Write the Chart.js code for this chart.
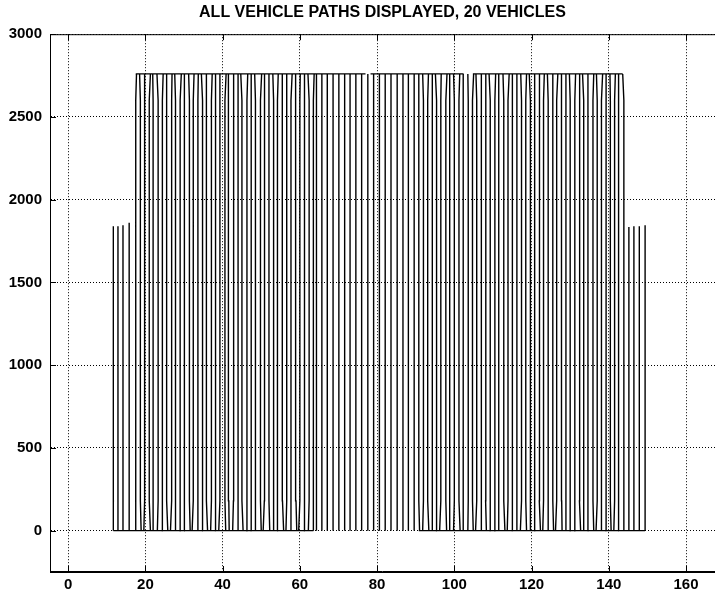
<!DOCTYPE html>
<html lang="en">
<head>
<meta charset="UTF-8">
<title>All vehicle paths</title>
<script src="https://cdn.jsdelivr.net/npm/chart.js"></script>
<style>
  html, body { margin: 0; padding: 0; background: #fff; }
  #wrap { width: 715px; height: 592px; }
</style>
</head>
<body>
<div id="wrap"><canvas id="paths"></canvas></div>
<script>
const TITLE = 'ALL VEHICLE PATHS DISPLAYED, 20 VEHICLES';
const xTicks = [0, 20, 40, 60, 80, 100, 120, 140, 160];
const yTicks = [0, 500, 1000, 1500, 2000, 2500, 3000];

const turnTop = 2760;
const turnBottom = 0;
const bendTop = 2600;
const bendBottom = 180;

// short sweeps on both flanks
const leftShortLanes = [11.7, 12.9, 14.2, 15.8];
const leftShortTops = [1840, 1840, 1845, 1860];
const rightShortLanes = [145.2, 146.5, 147.9, 149.4];
const rightShortTops = [1835, 1840, 1840, 1845];

// full-height lanes, west block / straight middle block / east block
const lanesWest = [17.5, 18.7, 19.8, 21.0, 22.0, 23.3, 24.4, 25.5, 26.8, 27.8, 29.0, 30.1,
  31.4, 32.4, 33.6, 34.8, 35.8, 37.1, 38.2, 39.3, 40.6, 41.6, 42.8, 44.0, 45.0, 46.3, 47.4,
  48.5, 49.8, 50.8, 52.0, 53.2, 54.2, 55.5, 56.6, 57.7, 59.0, 60.0, 61.2, 62.4, 63.5];
const lanesMiddle = [64.3, 65.7, 67.1, 68.6, 70.1, 71.6, 73.0, 74.5, 76.0, 77.6, 79.1, 80.6,
  82.1, 83.6, 85.2, 86.7, 88.1, 89.6];
const lanesEast = [90.8, 92.0, 93.1, 94.3, 95.4, 96.5, 97.8, 98.8, 100.0, 101.2, 102.3, 103.6,
  104.7, 105.8, 107.0, 108.1, 109.3, 110.5, 111.5, 112.8, 113.9, 115.0, 116.2, 117.4, 118.5,
  119.7, 120.8, 122.0, 123.1, 124.3, 125.5, 126.5, 127.8, 128.9, 130.0, 131.2, 132.4, 133.5,
  134.6, 135.9, 137.0, 138.1, 139.3, 140.4, 141.5, 142.6, 143.9];

// sideways drift of each lane where it meets the bottom / top turn (x units)
const leanWestBottom = [0, 0.2, -0.2, 0.3, 0, -0.2, 0.1, 0.3, -0.3, 0, 0.2, -0.1, 0.2, -0.3,
  0, 0.1, 0.3, -0.2, 0, -0.3, 0.2, 0.1, -0.2, 0, 0.3, -0.2, 0.1, 0, 0.2, -0.3, 0.2, 0, -0.1,
  0.3, -0.2, 0, 0.2, -0.3, 0.1, -0.2, 0];
const leanWestTop = [0.2, -0.2, 0, 0.3, -0.1, -0.3, 0.2, 0, 0.1, -0.2, 0.3, 0, -0.2, 0.2,
  0.1, -0.3, 0, 0.2, -0.1, 0, 0.3, -0.2, 0.1, 0, -0.3, 0.2, 0, -0.2, 0.3, 0.1, 0, -0.2, 0.2,
  -0.1, 0, 0.3, -0.2, 0.1, 0, -0.3, 0.2];
const leanEastBottom = [0.2, -0.2, 0.3, 0, 0.1, -0.3, 0.2, 0, -0.2, 0.3, 0, -0.1, 0.2, -0.3,
  0, 0.2, 0.1, -0.2, 0, 0.3, -0.2, 0.1, 0, -0.3, 0.2, 0, -0.1, 0.3, -0.2, 0, 0.2, -0.3, 0.1,
  0, 0.2, -0.2, 0.3, 0, -0.1, 0.2, -0.3, 0, 0.1, 0.2, -0.2, 0, 0];
const leanEastTop = [0, -0.2, 0.2, 0, -0.3, 0.1, 0.3, 0, -0.2, 0.2, 0, -0.1, 0.3, -0.2, 0,
  0.1, -0.3, 0.2, 0, -0.2, 0.3, 0.1, 0, -0.2, 0.2, -0.3, 0, 0.1, 0.2, -0.2, 0, 0.3, -0.1, 0,
  -0.2, 0.2, 0.1, -0.3, 0, 0.2, -0.2, 0.3, 0, -0.1, 0.2, -0.2, -0.3];

// continuous turn lines along the top and bottom
const topEdges = [[17.5, 77.0], [78.3, 102.4], [104.8, 143.6]];
const bottomEdges = [[11.7, 63.5], [90.8, 149.4]];

function verticals(lanes, tops, leanB, leanT) {
  const pts = [];
  lanes.forEach((x, i) => {
    const top = Array.isArray(tops) ? tops[i] : tops;
    if (leanB) {
      pts.push({x: x + leanB[i], y: turnBottom}, {x: x, y: bendBottom},
               {x: x, y: bendTop}, {x: x + leanT[i], y: top});
    } else {
      pts.push({x: x, y: turnBottom}, {x: x, y: top});
    }
    pts.push({x: x, y: null});
  });
  return pts;
}

function edges(list, y) {
  const pts = [];
  list.forEach(e => pts.push({x: e[0], y: y}, {x: e[1], y: y}, {x: e[1], y: null}));
  return pts;
}

const pathData = [].concat(
  verticals(leftShortLanes, leftShortTops),
  verticals(lanesWest, turnTop, leanWestBottom, leanWestTop),
  verticals(lanesMiddle, turnTop),
  verticals(lanesEast, turnTop, leanEastBottom, leanEastTop),
  verticals(rightShortLanes, rightShortTops)
);
const edgeData = [].concat(edges(topEdges, turnTop), edges(bottomEdges, turnBottom));

const framePlugin = {
  id: 'frame',
  afterDatasetsDraw(chart) {
    const {ctx, chartArea: a, scales: {x, y}} = chart;
    ctx.save();
    ctx.strokeStyle = '#000';
    ctx.lineWidth = 1;
    ctx.beginPath();
    ctx.moveTo(a.left + 0.5, a.bottom - 0.5);
    ctx.lineTo(a.left + 0.5, a.top + 0.5);
    ctx.lineTo(a.right, a.top + 0.5);
    ctx.moveTo(a.left, a.bottom - 0.5);
    ctx.lineTo(a.right, a.bottom - 0.5);
    xTicks.forEach(v => {
      const px = Math.round(x.getPixelForValue(v)) + 0.5;
      ctx.moveTo(px, a.bottom); ctx.lineTo(px, a.bottom - 6);
      ctx.moveTo(px, a.top); ctx.lineTo(px, a.top + 6);
    });
    yTicks.forEach(v => {
      const py = Math.round(y.getPixelForValue(v)) + 0.5;
      ctx.moveTo(a.left, py); ctx.lineTo(a.left + 6, py);
    });
    ctx.stroke();
    ctx.restore();
  }
};

const lineStyle = {
  showLine: true,
  borderColor: '#000',
  borderWidth: 1.4,
  pointRadius: 0,
  spanGaps: false,
  tension: 0
};

const tickFont = { family: 'Liberation Sans', size: 15, weight: 'bold' };

new Chart(document.getElementById('paths'), {
  type: 'scatter',
  data: {
    datasets: [
      Object.assign({label: 'lanes', data: pathData}, lineStyle),
      Object.assign({label: 'turns', data: edgeData}, lineStyle)
    ]
  },
  options: {
    responsive: true,
    maintainAspectRatio: false,
    animation: false,
    layout: { padding: 0 },
    plugins: {
      legend: { display: false },
      tooltip: { enabled: false },
      title: {
        display: true,
        text: TITLE,
        fullSize: false,
        color: '#000',
        font: { family: 'Liberation Sans', size: 16, weight: 'bold' },
        padding: { top: 3, bottom: 12 }
      }
    },
    scales: {
      x: {
        type: 'linear',
        min: -4.7,
        max: 167.5,
        afterBuildTicks: s => { s.ticks = xTicks.map(v => ({value: v})); },
        afterFit: s => { s.height = 20; },
        ticks: {
          color: '#000',
          padding: 4,
          maxRotation: 0,
          font: tickFont,
          callback: v => String(v)
        },
        grid: { color: '#000', lineWidth: 1, drawTicks: false },
        border: { display: true, color: '#000', width: 1, dash: [1, 2] }
      },
      y: {
        type: 'linear',
        min: -250,
        max: 3000,
        afterBuildTicks: s => { s.ticks = yTicks.map(v => ({value: v})); },
        afterFit: s => { s.width = 50; },
        ticks: {
          color: '#000',
          padding: 8,
          font: tickFont,
          callback: v => String(v)
        },
        grid: { color: '#000', lineWidth: 1, drawTicks: false },
        border: { display: true, color: '#000', width: 1, dash: [1, 2] }
      }
    }
  },
  plugins: [framePlugin]
});
</script>
</body>
</html>
